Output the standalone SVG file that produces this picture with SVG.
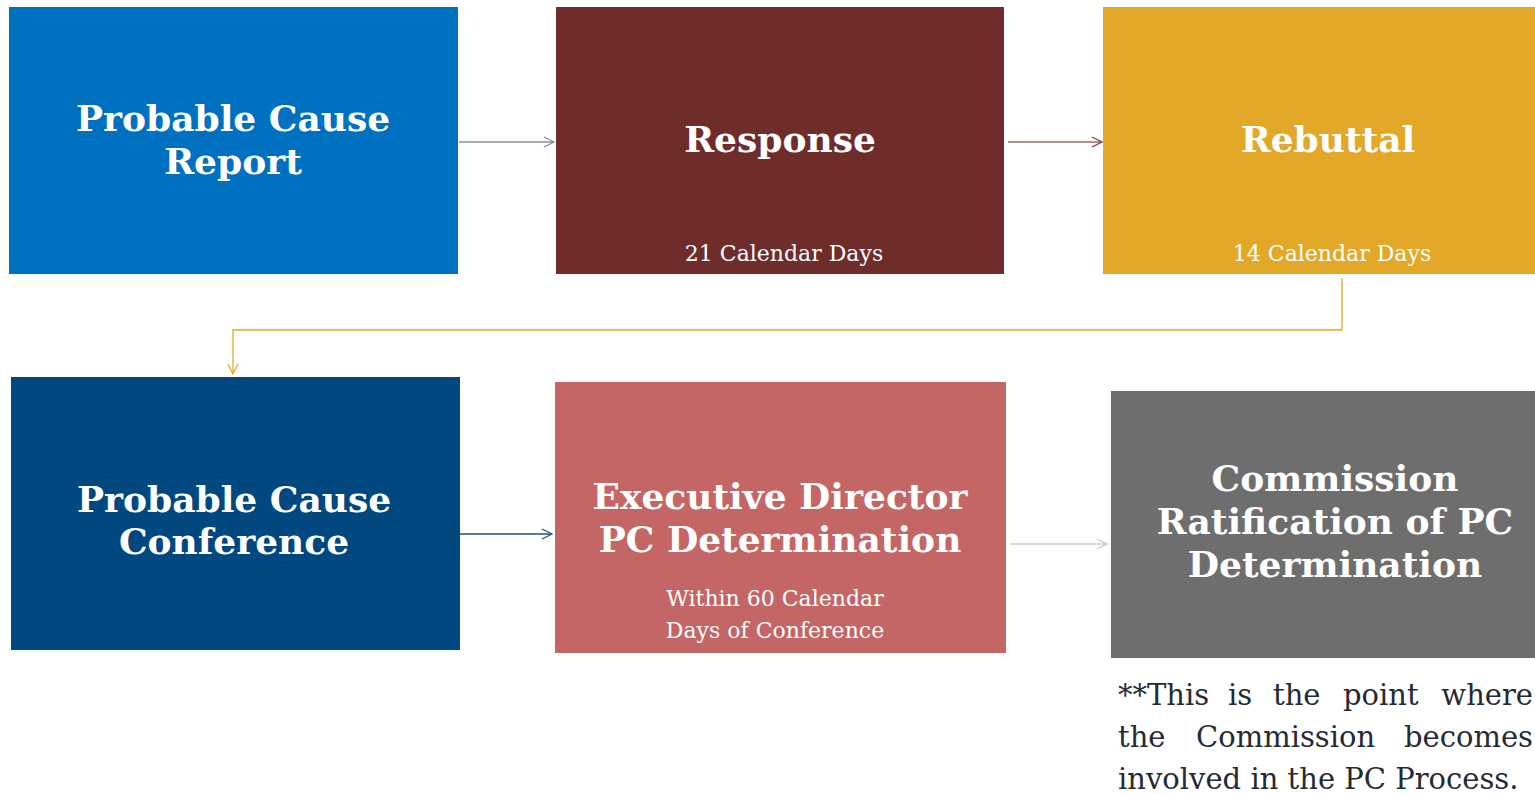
<svg xmlns="http://www.w3.org/2000/svg" width="1535" height="794" viewBox="0 0 1535 794">
  <style>
    .title { font-family: "DejaVu Serif", "Liberation Serif", serif; font-weight: bold; font-size: 36px; fill: #ffffff; text-anchor: middle; }
    .sub { font-family: "DejaVu Serif", "Liberation Serif", serif; font-size: 22px; fill: #ffffff; text-anchor: middle; }
    .note { font-family: "DejaVu Serif", "Liberation Serif", serif; font-size: 29px; fill: #262a33; }
    .conn { fill: none; stroke-width: 1.3; }
  </style>
  <defs>
    <marker id="arrow-gray" markerWidth="12" markerHeight="12" refX="11" refY="6" orient="auto" markerUnits="userSpaceOnUse">
      <path d="M1,1 L11,6 L1,11" fill="none" stroke="#8f8f8f" stroke-width="1.3"/>
    </marker>
    <marker id="arrow-maroon" markerWidth="12" markerHeight="12" refX="11" refY="6" orient="auto" markerUnits="userSpaceOnUse">
      <path d="M1,1 L11,6 L1,11" fill="none" stroke="#8a3a3a" stroke-width="1.3"/>
    </marker>
    <marker id="arrow-gold" markerWidth="12" markerHeight="12" refX="11" refY="6" orient="auto" markerUnits="userSpaceOnUse">
      <path d="M1,1 L11,6 L1,11" fill="none" stroke="#e3a827" stroke-width="1.3"/>
    </marker>
    <marker id="arrow-navy" markerWidth="12" markerHeight="12" refX="11" refY="6" orient="auto" markerUnits="userSpaceOnUse">
      <path d="M1,1 L11,6 L1,11" fill="none" stroke="#1f5a8c" stroke-width="1.3"/>
    </marker>
    <marker id="arrow-light" markerWidth="12" markerHeight="12" refX="11" refY="6" orient="auto" markerUnits="userSpaceOnUse">
      <path d="M1,1 L11,6 L1,11" fill="none" stroke="#c8c8c8" stroke-width="1.3"/>
    </marker>
  </defs>
  <rect width="1535" height="794" fill="#ffffff"/>

  <!-- connectors -->
  <g id="connectors">
    <path class="conn" d="M459,142 L554,142" stroke="#8f8f8f" marker-end="url(#arrow-gray)"/>
    <path class="conn" d="M1008,142 L1102,142" stroke="#9e6a6a" marker-end="url(#arrow-maroon)"/>
    <path class="conn" d="M1342,278 L1342,330 L233,330 L233,374" stroke="#e3a827" marker-end="url(#arrow-gold)"/>
    <path class="conn" d="M460,534 L552,534" stroke="#1f4f7f" marker-end="url(#arrow-navy)"/>
    <path class="conn" d="M1010,544 L1107,544" stroke="#cccccc" marker-end="url(#arrow-light)"/>
  </g>

  <!-- row 1 -->
  <g id="pc-report">
    <rect x="9" y="7" width="449" height="267" fill="#0070c0"/>
    <text class="title" x="233" y="131">Probable Cause</text>
    <text class="title" x="233" y="174">Report</text>
  </g>
  <g id="response">
    <rect x="556" y="7" width="448" height="267" fill="#6e2c2b"/>
    <text class="title" x="780" y="152">Response</text>
    <text class="sub" x="784" y="261">21 Calendar Days</text>
  </g>
  <g id="rebuttal">
    <rect x="1103" y="7" width="440" height="267" fill="#e3a827"/>
    <text class="title" x="1328" y="152">Rebuttal</text>
    <text class="sub" x="1332" y="261">14 Calendar Days</text>
  </g>

  <!-- row 2 -->
  <g id="pc-conference">
    <rect x="11" y="377" width="449" height="273" fill="#00487f"/>
    <text class="title" x="234" y="512">Probable Cause</text>
    <text class="title" x="234" y="554">Conference</text>
  </g>
  <g id="ed-determination">
    <rect x="555" y="382" width="451" height="271" fill="#c46666"/>
    <text class="title" x="780" y="509">Executive Director</text>
    <text class="title" x="780" y="552">PC Determination</text>
    <text class="sub" x="775" y="606">Within 60 Calendar</text>
    <text class="sub" x="775" y="638">Days of Conference</text>
  </g>
  <g id="ratification">
    <rect x="1111" y="391" width="432" height="267" fill="#6e6e6e"/>
    <text class="title" x="1335" y="491">Commission</text>
    <text class="title" x="1335" y="534">Ratification of PC</text>
    <text class="title" x="1335" y="577">Determination</text>
  </g>

  <!-- footnote, justified by hand -->
  <g id="footnote" class="note">
    <text y="705"><tspan x="1118">**This</tspan><tspan x="1228">is</tspan><tspan x="1273">the</tspan><tspan x="1343">point</tspan><tspan x="1533" text-anchor="end">where</tspan></text>
    <text y="747"><tspan x="1118">the</tspan><tspan x="1196">Commission</tspan><tspan x="1533" text-anchor="end">becomes</tspan></text>
    <text x="1118" y="789">involved in the PC Process.</text>
  </g>
</svg>
